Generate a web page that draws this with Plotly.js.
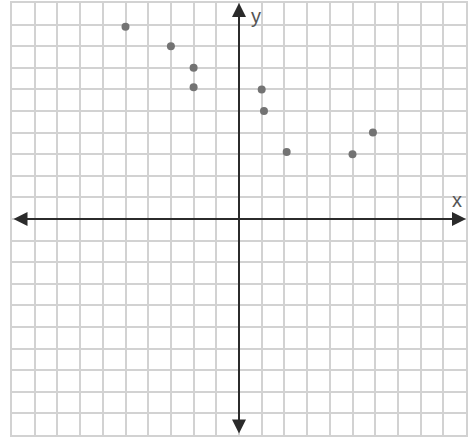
<!DOCTYPE html>
<html>
<head>
<meta charset="utf-8">
<script src="https://cdn.plot.ly/plotly-3.0.1.min.js"></script>
<style>
  html, body { margin: 0; padding: 0; background: #fff; }
  #myChart { width: 468px; height: 439px; }
</style>
</head>
<body>
<div id="myChart"></div>
<script>
// points
var xs = [-5, -3, -2, -2, 1, 1.1, 2.1, 5, 5.9];
var ys = [8.9, 8, 7, 6.1, 6, 5, 3.1, 3, 4];

var gridColor = '#d2d2d2';
var axisColor = '#2b2b2b';

var trace1 = {
  x: xs,
  y: ys,
  type: 'scatter',
  mode: 'markers',
  marker: { color: '#737373', size: 8 },
  hoverinfo: 'x+y'
};

var axisBase = {
  range: [-10, 10],
  dtick: 1,
  tick0: 0,
  showgrid: true,
  gridcolor: gridColor,
  gridwidth: 2,
  showticklabels: false,
  ticks: '',
  zeroline: false,
  showline: true,
  linecolor: gridColor,
  linewidth: 2,
  mirror: true,
  fixedrange: true
};

var layout = {
  width: 468,
  height: 439,
  margin: { l: 12, r: 2, t: 3, b: 4 },
  paper_bgcolor: '#fff',
  plot_bgcolor: '#fff',
  showlegend: false,
  xaxis: Object.assign({}, axisBase),
  yaxis: Object.assign({}, axisBase),
  annotations: [
    {
      // x axis arrow
      x: 10, y: 0, ax: -10, ay: 0,
      xref: 'x', yref: 'y', axref: 'x', ayref: 'y',
      text: '', showarrow: true,
      arrowside: 'end+start', arrowhead: 2, arrowsize: 1.4,
      arrowwidth: 2, arrowcolor: axisColor
    },
    {
      // y axis arrow
      x: 0, y: 10, ax: 0, ay: -10,
      xref: 'x', yref: 'y', axref: 'x', ayref: 'y',
      text: '', showarrow: true,
      arrowside: 'end+start', arrowhead: 2, arrowsize: 1.4,
      arrowwidth: 2, arrowcolor: axisColor
    },
    {
      x: 0.75, y: 9.4, xref: 'x', yref: 'y', text: 'y', showarrow: false,
      font: { family: 'Liberation Sans, Arial, sans-serif', size: 20, color: '#555' }
    },
    {
      x: 9.6, y: 0.9, xref: 'x', yref: 'y', text: 'x', showarrow: false,
      font: { family: 'Liberation Sans, Arial, sans-serif', size: 20, color: '#555' }
    }
  ]
};

Plotly.newPlot('myChart', [trace1], layout, { displayModeBar: false, staticPlot: true });
</script>
</body>
</html>
